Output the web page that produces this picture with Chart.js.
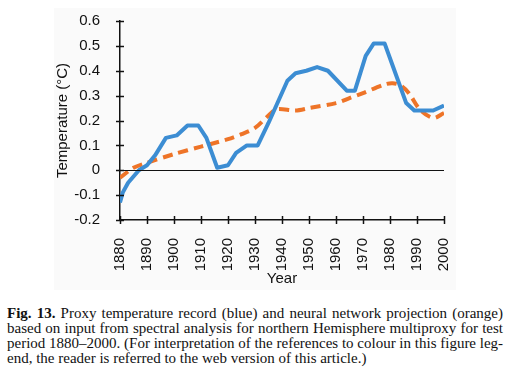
<!DOCTYPE html>
<html>
<head>
<meta charset="utf-8">
<script src="https://cdn.jsdelivr.net/npm/chart.js@4/dist/chart.umd.min.js"></script>
<style>
body { margin: 0; background: #fff; width: 510px; height: 380px; overflow: hidden; position: relative; }
#bg { position: absolute; left: 54px; top: 8px; width: 402px; height: 282px; background: #fafafa; }
#wrap { position: absolute; left: 0; top: 0; width: 510px; height: 292px; }
#cap { position: absolute; left: 7px; top: 306px; width: 496px; font: 15px "Liberation Serif", serif; line-height: 15px; color: #111; }
#cap div { white-space: nowrap; text-align: justify; text-align-last: justify; }
#cap div.last { text-align-last: left; }
</style>
</head>
<body>
<div id="bg"></div>
<div id="wrap"><canvas id="Grafica" width="510" height="292"></canvas></div>
<div id="cap">
<div><b>Fig. 13.</b> Proxy temperature record (blue) and neural network projection (orange)</div>
<div>based on input from spectral analysis for northern Hemisphere multiproxy for test</div>
<div>period 1880–2000. (For interpretation of the references to colour in this figure leg-</div>
<div class="last">end, the reader is referred to the web version of this article.)</div>
</div>
<script>
// valores
const proxyYears = [1880, 1881, 1883, 1885, 1887, 1890, 1893, 1897, 1901, 1905, 1909, 1912, 1916, 1920, 1923, 1927, 1931, 1935, 1942, 1945, 1949, 1953, 1957, 1964, 1967, 1971, 1974, 1978, 1981, 1986, 1989, 1996, 2000];
const proxyTemp  = [-0.13, -0.09, -0.05, -0.025, 0.0, 0.02, 0.06, 0.13, 0.14, 0.18, 0.18, 0.13, 0.01, 0.02, 0.07, 0.10, 0.10, 0.19, 0.36, 0.39, 0.40, 0.415, 0.40, 0.32, 0.32, 0.46, 0.51, 0.51, 0.42, 0.27, 0.24, 0.24, 0.26];
const redYears = [1880, 1885, 1890, 1900, 1910, 1920, 1925, 1930, 1935, 1938, 1945, 1950, 1960, 1965, 1970, 1978, 1981, 1984, 1987, 1991, 1996, 2000];
const redTemp  = [-0.03, 0.01, 0.03, 0.065, 0.095, 0.125, 0.145, 0.17, 0.22, 0.245, 0.24, 0.25, 0.27, 0.29, 0.31, 0.345, 0.35, 0.34, 0.31, 0.245, 0.21, 0.23];
const xTicks = [1880, 1890, 1900, 1910, 1920, 1930, 1940, 1950, 1960, 1970, 1980, 1990, 2000];
const yTicks = [-0.2, -0.1, 0, 0.1, 0.2, 0.3, 0.4, 0.5, 0.6];

const ejes = {
	id: 'ejes',
	afterDraw(chart) {
		const c = chart.ctx, x = chart.scales.x, y = chart.scales.y;
		c.save();
		c.strokeStyle = '#111';
		c.lineWidth = 1.2;
		// linea del cero
		const y0 = Math.round(y.getPixelForValue(0)) + 0.5;
		c.beginPath(); c.moveTo(x.left, y0); c.lineTo(x.right, y0); c.stroke();
		// marcas que cruzan los ejes
		c.lineWidth = 1.5;
		yTicks.forEach(v => {
			const p = Math.round(y.getPixelForValue(v)) + 0.5;
			c.beginPath(); c.moveTo(x.left - 4, p); c.lineTo(x.left + 4, p); c.stroke();
		});
		xTicks.forEach(v => {
			const p = Math.round(x.getPixelForValue(v)) + 0.5;
			c.beginPath(); c.moveTo(p, y.bottom - 4); c.lineTo(p, y.bottom + 4); c.stroke();
		});
		c.restore();
	}
};

const fuente = { family: 'Liberation Sans, Arial, sans-serif', size: 15 };
var ctx = document.querySelector('#Grafica').getContext('2d');
var myChart = new Chart(ctx, {
	type: 'line',
	data: {
		datasets: [{
			label: 'Proxy',
			data: proxyYears.map((a, i) => ({ x: a, y: proxyTemp[i] })),
			borderColor: '#3c8dd3',
			borderWidth: 4,
			pointRadius: 0,
			borderJoinStyle: 'round',
			tension: 0
		}, {
			label: 'Red neuronal',
			data: redYears.map((a, i) => ({ x: a, y: redTemp[i] })),
			borderColor: '#ee7428',
			borderWidth: 4,
			borderDash: [10, 6],
			pointRadius: 0,
			tension: 0.3
		}]
	},
	options: {
		responsive: false,
		animation: false,
		layout: { padding: { left: 0, top: 16, right: 66, bottom: 0 } },
		plugins: { legend: { display: false }, tooltip: { enabled: false } },
		scales: {
			x: {
				type: 'linear', min: 1880, max: 2000,
				afterBuildTicks: s => { s.ticks = xTicks.map(v => ({ value: v })); },
				afterFit: s => { s.height = 72; },
				grid: { display: false },
				border: { color: '#111', width: 1.5 },
				ticks: { color: '#111', font: fuente, padding: 10, minRotation: 90, maxRotation: 90, callback: v => String(v) },
				title: { display: true, text: 'Year', color: '#111', font: fuente, padding: { top: 0, bottom: 4 } }
			},
			y: {
				min: -0.2, max: 0.6,
				afterBuildTicks: s => { s.ticks = yTicks.map(v => ({ value: v })); },
				afterFit: s => { s.width = 120; },
				grid: { display: false },
				border: { color: '#111', width: 1.5 },
				ticks: { color: '#111', font: fuente, padding: 12, callback: v => String(Math.round(v * 10) / 10) },
				title: { display: true, text: 'Temperature (°C)', color: '#111', font: fuente, padding: { top: 54, bottom: 0 } }
			}
		}
	},
	plugins: [ejes]
});
</script>
</body>
</html>
